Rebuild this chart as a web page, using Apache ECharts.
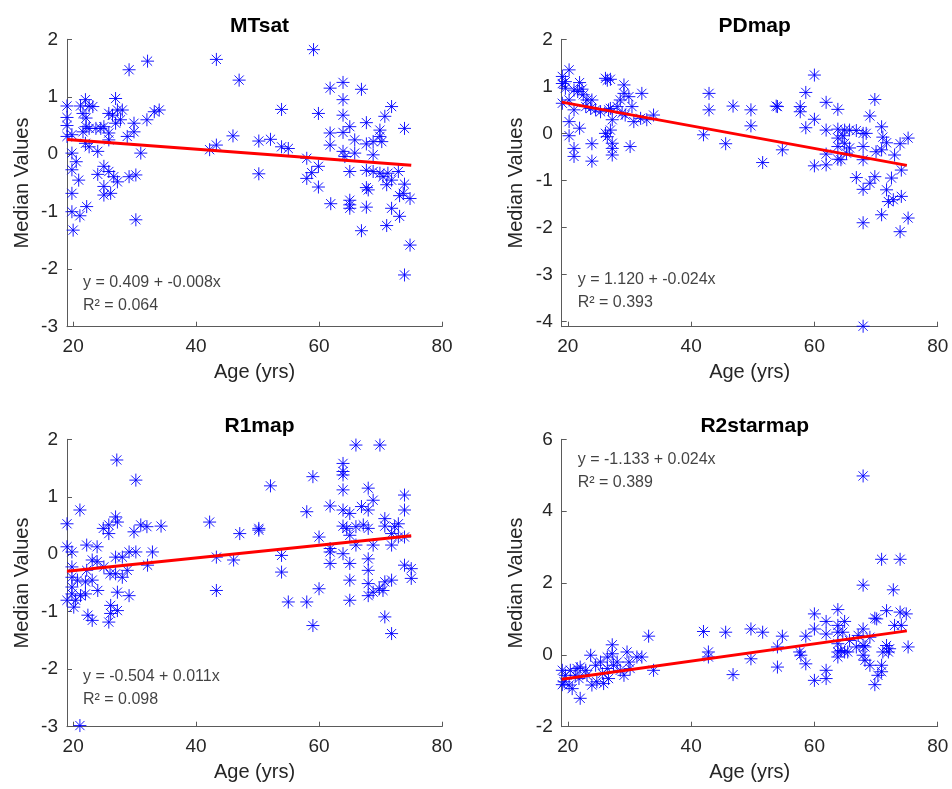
<!DOCTYPE html>
<html>
<head>
<meta charset="utf-8">
<script src="https://cdn.jsdelivr.net/npm/echarts@6/dist/echarts.min.js"></script>
<style>
  html, body { margin: 0; padding: 0; background: #fff; }
  #chart { width: 952px; height: 789px; }
</style>
</head>
<body>
<div id="chart"></div>
<script>
// ---- data ----
const panelTitles = ['MTsat', 'PDmap', 'R1map', 'R2starmap'];

// [age, median value] per subject
const mtsatPoints = [
  [19.0,0.84],[19.0,0.64],[19.0,0.50],[19.0,0.31],[19.8,0.34],[19.8,0.02],[19.8,-0.27],[19.8,-0.68],
  [19.8,-1.00],[20.0,-1.32],[20.5,-0.13],[20.9,-0.45],[21.1,-1.07],[21.2,0.84],[22.0,0.95],[21.6,0.71],
  [22.6,0.84],[23.2,0.83],[22.1,0.63],[22.1,0.48],[21.6,0.39],[22.6,0.45],[22.0,0.19],[22.6,0.13],
  [22.2,-0.91],[23.7,0.45],[24.0,0.05],[24.0,-0.35],[24.5,0.45],[25.0,0.48],[25.0,-0.21],[25.0,-0.56],
  [25.0,-0.71],[25.8,0.71],[25.8,0.37],[25.8,0.25],[25.8,-0.30],[26.1,-0.68],[26.4,0.68],[26.9,0.97],
  [27.2,0.77],[26.9,0.54],[27.2,-0.48],[26.6,-0.39],[28.0,0.77],[27.7,0.60],[28.8,0.31],[29.1,-0.39],
  [29.1,1.47],[29.9,0.54],[30.2,-0.36],[30.2,-1.14],[29.9,0.39],[31.0,0.02],[32.0,0.60],[32.1,1.62],
  [33.2,0.74],[34.0,0.77],[42.2,0.08],[43.3,1.65],[43.3,0.16],
  [47.0,1.29],[46.0,0.32],[50.2,0.23],[50.2,-0.34],[52.1,0.26],[53.9,0.78],[53.9,0.13],[55.0,0.10],
  [59.1,1.82],[58.0,-0.07],[58.0,-0.42],[58.8,-0.32],[59.9,0.71],[59.9,-0.21],[59.9,-0.57],[61.8,1.15],
  [63.9,1.25],[61.8,0.37],[61.8,0.16],[61.9,-0.86],[63.9,0.95],[63.9,0.68],[63.9,0.38],[63.9,0.05],
  [64.2,-0.04],[65.0,0.48],[65.0,-0.30],[65.0,-0.80],[65.0,-0.88],[65.0,-0.94],[65.8,0.25],[65.8,0.02],
  [66.9,1.13],[66.9,-1.33],[67.7,0.55],[67.7,0.18],[67.7,-0.28],[67.7,-0.58],[68.0,-0.62],[67.7,-0.92],
  [68.8,0.22],[68.8,-0.01],[68.8,-0.30],[69.9,0.42],[70.2,0.22],[69.9,0.31],[70.7,0.66],[71.8,0.83],
  [69.9,-0.33],[70.4,-0.39],[71.0,-0.53],[71.0,-1.24],[71.2,-0.33],[71.8,-0.45],[71.8,-0.94],[72.9,-0.30],
  [73.1,-0.72],[73.1,-1.08],[73.9,0.45],[73.9,-0.52],[73.9,-2.10],[74.8,-0.77],[74.8,-1.58],[73.7,-0.68]
];

const pdmapPoints = [
  [19.1,1.21],[19.1,1.06],[19.1,0.64],[19.6,1.10],[20.2,1.35],[19.6,0.96],[20.2,0.71],[20.2,0.25],
  [20.2,-0.05],[21.0,0.92],[21.0,-0.32],[21.0,-0.49],[21.6,0.89],[21.9,1.08],[21.9,0.11],[22.3,0.94],
  [22.5,0.82],[21.0,0.50],[22.9,0.57],[23.1,0.71],[23.9,0.71],[23.7,0.53],[23.9,-0.22],[23.9,-0.59],
  [24.5,0.50],[25.3,0.46],[26.1,1.17],[26.4,1.13],[26.9,1.15],[26.1,0.00],[26.6,0.50],[26.9,0.53],
  [26.9,0.07],[27.2,0.29],[27.2,-0.21],[27.2,-0.32],[27.2,-0.46],[26.4,-0.07],[28.0,0.57],[28.5,0.71],
  [29.1,1.03],[29.1,0.85],[28.8,0.43],[29.3,0.39],[29.9,0.78],[30.1,-0.28],[30.4,0.57],[30.7,0.25],
  [32.0,0.85],[31.8,0.32],[32.8,0.29],[33.9,0.39],[42.0,-0.03],[42.9,0.85],[42.9,0.50],
  [45.6,-0.22],[46.8,0.58],[49.7,0.50],[49.7,0.16],[51.6,-0.62],[53.8,0.58],[54.0,0.57],[54.8,-0.35],
  [57.7,0.57],[57.7,0.46],[58.6,0.87],[58.6,0.12],[60.0,1.24],[60.0,0.30],[60.0,-0.69],[61.9,0.66],
  [61.9,0.07],[61.9,-0.44],[61.9,-0.67],[63.8,0.51],[63.8,0.09],[63.8,-0.10],[63.8,-0.28],[63.8,-0.55],
  [64.3,-0.56],[64.6,-0.05],[64.9,-0.21],[65.2,-0.42],[64.9,0.07],[65.7,0.07],[66.8,-0.94],[67.9,0.00],
  [67.9,-0.28],[67.9,-0.56],[67.9,-1.19],[67.9,-1.90],[67.9,-4.10],[68.4,0.00],[69.0,0.37],[69.8,0.72],
  [69.0,-1.06],[69.8,-0.92],[70.9,0.14],[70.9,-0.35],[70.9,-1.73],[71.1,-0.08],[71.7,-0.20],[71.7,-1.20],
  [72.0,-1.45],[72.5,-0.95],[72.8,-1.41],[73.0,-0.46],[73.9,-0.22],[74.1,-0.78],[74.1,-1.34],[73.9,-2.09],
  [75.2,-0.10],[75.2,-1.80],[70.0,-0.39],[66.8,0.06],[65.7,-0.31]
];

const r1mapPoints = [
  [19.0,0.53],[19.0,0.13],[19.0,-0.80],[19.8,0.04],[19.8,-0.22],[19.8,-0.40],[19.8,-0.57],[19.8,-0.69],
  [20.1,-0.92],[20.4,-0.80],[20.7,-0.45],[21.1,0.77],[21.1,-2.98],[21.2,-0.72],[22.0,-0.69],[22.2,0.16],
  [22.2,-0.28],[22.0,-0.48],[22.4,-1.06],[23.1,-1.15],[23.1,-0.10],[23.1,-0.45],[23.9,0.13],[23.9,-0.13],
  [24.0,-0.63],[24.9,0.45],[25.0,-0.22],[25.8,0.51],[25.8,0.36],[26.0,-0.34],[26.1,-0.89],[25.8,-1.18],
  [26.1,-1.03],[26.9,0.65],[27.2,0.56],[27.1,1.64],[26.9,-0.05],[26.9,-0.34],[27.2,-0.66],[27.2,-0.98],
  [28.0,-0.05],[28.0,-0.40],[29.1,0.04],[29.1,-0.72],[29.9,0.39],[30.2,1.29],[30.2,0.04],[31.0,0.51],
  [32.1,-0.19],[32.9,0.04],[32.0,0.48],[34.3,0.49],[28.8,-0.28],[42.2,0.56],[43.3,-0.05],[43.3,-0.63],
  [46.1,-0.10],[47.1,0.36],[50.2,0.45],[50.2,0.42],[52.1,1.19],[53.9,-0.02],[53.9,-0.31],[55.0,-0.83],
  [58.0,0.74],[58.0,-0.83],[59.0,1.35],[59.0,-1.24],[60.0,0.30],[60.0,-0.60],[61.8,0.84],[61.8,0.10],
  [61.8,-0.16],[61.8,0.04],[63.9,1.58],[63.9,1.44],[63.9,1.38],[63.9,1.12],[63.9,0.77],[63.9,0.49],
  [63.9,0.01],[64.5,0.45],[65.0,0.71],[65.0,0.33],[65.0,-0.16],[65.0,-0.45],[65.0,-0.80],[66.0,1.90],
  [66.0,0.48],[66.0,0.16],[66.9,0.83],[67.2,0.51],[68.0,1.15],[68.0,0.77],[68.0,0.45],[68.0,-0.08],
  [68.0,-0.28],[68.0,-0.51],[68.0,-0.72],[68.8,0.94],[68.8,0.16],[68.8,-0.66],[69.9,1.90],[69.8,-0.60],
  [70.7,0.62],[70.7,0.49],[70.7,-0.48],[70.7,-1.09],[71.8,0.36],[71.8,0.16],[71.8,-0.45],[71.8,-1.38],
  [72.9,0.53],[72.9,0.30],[73.9,1.03],[73.9,0.77],[73.9,0.30],[73.9,-0.19],[75.0,-0.25],[75.0,-0.42],
  [72.3,0.48],[70.4,-0.63]
];

const r2starmapPoints = [
  [19.1,-0.43],[19.1,-0.83],[19.4,-0.75],[19.6,-0.57],[20.2,-0.84],[20.4,-0.43],[20.7,-0.94],[21.2,-0.57],
  [21.5,-0.38],[21.8,-0.66],[22.0,-1.21],[22.0,-0.34],[22.9,-0.43],[23.1,-0.57],[23.7,-0.01],[23.9,-0.84],
  [24.5,-0.29],[24.7,-0.75],[25.3,-0.20],[25.6,-0.52],[25.8,-0.80],[26.4,-0.06],[26.4,-0.38],[26.6,-0.66],
  [27.2,0.28],[27.2,0.03],[27.4,-0.29],[28.0,-0.20],[28.5,-0.43],[29.1,-0.57],[29.6,0.08],[29.9,-0.20],
  [30.1,-0.38],[31.2,-0.06],[32.0,-0.06],[33.1,0.52],[33.9,-0.43],[42.0,0.65],[42.8,0.08],[42.8,-0.06],
  [45.6,0.63],[46.8,-0.55],[49.7,0.72],[49.7,-0.11],[51.6,0.63],[54.0,0.22],[54.0,-0.34],[54.8,0.52],
  [57.6,0.08],[57.8,-0.01],[58.6,0.52],[58.6,-0.25],[60.0,1.14],[60.0,0.72],[60.0,-0.71],[61.9,0.93],
  [61.9,0.58],[61.9,-0.43],[61.9,-0.66],[63.8,1.26],[63.8,0.82],[63.8,0.63],[63.8,0.31],[63.8,0.08],
  [63.8,-0.06],[64.3,0.12],[64.6,0.63],[64.9,0.93],[64.9,0.08],[65.4,0.08],[65.7,0.40],[66.8,0.22],
  [67.1,0.54],[67.9,4.98],[67.9,1.94],[67.9,0.72],[67.9,0.26],[67.9,-0.01],[68.2,-0.15],[69.0,-0.29],
  [69.0,0.49],[69.8,1.02],[70.1,1.00],[69.8,-0.83],[70.3,-0.57],[70.9,2.66],[70.9,-0.29],[70.9,-0.47],
  [71.1,0.08],[71.7,1.23],[71.7,0.26],[72.0,0.08],[72.2,0.17],[72.8,1.81],[73.0,0.82],[73.9,2.66],
  [73.9,1.19],[74.1,0.82],[74.9,1.14],[75.2,0.22],[68.2,0.22]
];

// linear fit y = intercept + slope * age, and its R²
const intercepts = [0.409, 1.120, -0.504, -1.133];
const slopes = [-0.008, -0.024, 0.011, 0.024];
const rSquared = [0.064, 0.393, 0.098, 0.389];
const fitAgeRange = [19, 75];

const xTickValues = [20, 40, 60, 80];
const yTickValues = [
  [-3, -2, -1, 0, 1, 2],
  [-4, -3, -2, -1, 0, 1, 2],
  [-3, -2, -1, 0, 1, 2],
  [-2, 0, 2, 4, 6]
];

// ---- chart ----
const panelPoints = [mtsatPoints, pdmapPoints, r1mapPoints, r2starmapPoints];
const yLimits = [[-3, 2], [-4.11, 2], [-3, 2], [-2, 6]];
const noteAnchors = [[21.6, -2.44], [21.6, -3.354], [21.6, -2.332], [21.6, 5.118]];

const FONT = '"Liberation Sans", Arial, Helvetica, sans-serif';
const gridBoxes = [
  { left: 67, top: 39.3, width: 375, height: 287.4 },
  { left: 561.7, top: 39.3, width: 376, height: 287.4 },
  { left: 67, top: 439.3, width: 375, height: 287.4 },
  { left: 561.7, top: 439.3, width: 376, height: 287.4 }
];

const asterisk = 'path://M-10 0L10 0M0 -10L0 10M-7.07 -7.07L7.07 7.07M-7.07 7.07L7.07 -7.07';
const axisColor = '#5a5a5a';
const textColor = '#262626';

const grids = [], xAxes = [], yAxes = [], titles = [], series = [];

panelTitles.forEach((name, i) => {
  const g = gridBoxes[i];
  grids.push(Object.assign({ containLabel: false }, g));

  titles.push({
    text: name,
    left: g.left + g.width / 2,
    top: g.top - 29,
    textAlign: 'center',
    textStyle: { fontFamily: FONT, fontSize: 21, fontWeight: 'bold', color: '#000' }
  });

  xAxes.push({
    type: 'value', gridIndex: i, min: 19, max: 80,
    name: 'Age (yrs)', nameLocation: 'middle', nameGap: 36,
    nameTextStyle: { fontFamily: FONT, fontSize: 20, color: textColor },
    axisLine: { show: true, onZero: false, lineStyle: { color: axisColor, width: 1 } },
    axisTick: { show: true, inside: true, length: 5, customValues: xTickValues, lineStyle: { color: axisColor } },
    axisLabel: { customValues: xTickValues, fontFamily: FONT, fontSize: 19, color: textColor, margin: 11 },
    splitLine: { show: false }
  });

  yAxes.push({
    type: 'value', gridIndex: i, min: yLimits[i][0], max: yLimits[i][1],
    name: 'Median Values', nameLocation: 'middle', nameGap: 35,
    nameTextStyle: { fontFamily: FONT, fontSize: 20, color: textColor },
    axisLine: { show: true, onZero: false, lineStyle: { color: axisColor, width: 1 } },
    axisTick: { show: true, inside: true, length: 5, customValues: yTickValues[i], lineStyle: { color: axisColor } },
    axisLabel: { customValues: yTickValues[i], fontFamily: FONT, fontSize: 19, color: textColor, margin: 9 },
    splitLine: { show: false }
  });

  series.push({
    type: 'scatter', xAxisIndex: i, yAxisIndex: i,
    data: panelPoints[i],
    symbol: asterisk, symbolSize: 13,
    clip: false,
    itemStyle: { color: '#0000ff', borderColor: '#0000ff', borderWidth: 1, opacity: 0.9 },
    emphasis: { disabled: true },
    z: 2
  });

  const a = intercepts[i], b = slopes[i];
  series.push({
    type: 'line', xAxisIndex: i, yAxisIndex: i,
    data: fitAgeRange.map(x => [x, a + b * x]),
    symbol: 'none',
    lineStyle: { color: '#ff0000', width: 3 },
    z: 3
  });

  series.push({
    type: 'scatter', xAxisIndex: i, yAxisIndex: i,
    data: [noteAnchors[i]],
    symbolSize: 0,
    silent: true,
    label: {
      show: true, position: 'right', distance: 0,
      formatter: () => 'y = ' + a.toFixed(3) + ' + ' + b.toFixed(3) + 'x\nR² = ' + rSquared[i].toFixed(3),
      fontFamily: FONT, fontSize: 16, lineHeight: 23, color: '#111', align: 'left', verticalAlign: 'middle'
    },
    z: 4
  });
});

const chart = echarts.init(document.getElementById('chart'), null, { renderer: 'canvas' });
chart.setOption({
  animation: false,
  backgroundColor: '#ffffff',
  title: titles,
  grid: grids,
  xAxis: xAxes,
  yAxis: yAxes,
  series: series
});
</script>
</body>
</html>
